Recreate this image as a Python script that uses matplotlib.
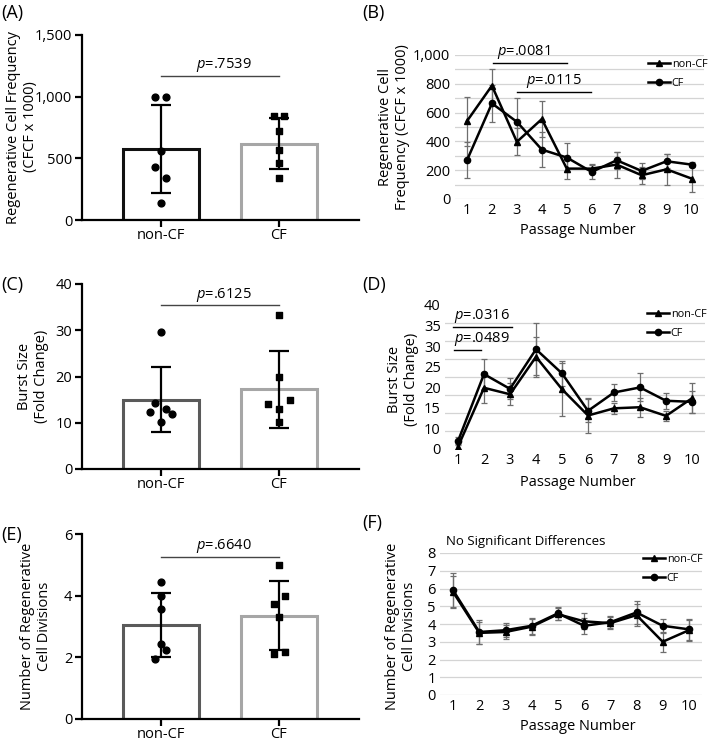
import numpy as np
import matplotlib
matplotlib.use('Agg')
import matplotlib.pyplot as plt
from matplotlib.lines import Line2D

plt.rcParams['font.family'] = ['Open Sans', 'DejaVu Sans']
plt.rcParams['mathtext.fontset'] = 'custom'
plt.rcParams['mathtext.rm'] = 'Open Sans'
plt.rcParams['mathtext.it'] = 'Open Sans:italic'

# ---- datos paneles de barras (A, C, E) ----
grupos = ['non-CF', 'CF']

a_medias = [575, 620]
a_sd = [355, 210]
a_noncf = [1000, 1000, 560, 430, 340, 140]
a_noncf_dx = [-0.048, 0.04, 0, -0.05, 0.04, 0]
a_cf = [846, 846, 719, 568, 459, 343]
a_cf_dx = [-0.045, 0.045, 0, 0, 0, 0]

c_medias = [15.0, 17.2]
c_sd = [7.1, 8.35]
c_noncf = [29.6, 14.2, 12.4, 13.0, 12.0, 10.2]
c_noncf_dx = [0, -0.05, -0.096, 0.045, 0.093, 0]
c_cf = [33.2, 20.0, 15.0, 14.1, 13.0, 10.2]
c_cf_dx = [0, 0, 0.095, -0.093, 0, 0]

e_medias = [3.06, 3.35]
e_sd = [1.04, 1.11]
e_noncf = [4.45, 3.98, 3.57, 2.44, 2.23, 1.96]
e_noncf_dx = [0, 0, 0, 0, 0.045, -0.05]
e_cf = [4.98, 3.98, 3.72, 3.31, 2.12, 2.16]
e_cf_dx = [0, 0.05, -0.045, 0, -0.045, 0.05]

# ---- datos paneles de lineas (B, D, F) ----
pasajes = np.arange(1, 11)

b_noncf = [541, 787, 397, 555, 211, 211, 239, 165, 206, 142]
b_noncf_err = [170, 113, 93, 125, 75, 30, 90, 60, 106, 92]
b_cf = [269, 664, 536, 343, 288, 188, 269, 195, 262, 239]
b_cf_err = [125, 128, 162, 121, 100, 50, 60, 57, 50, 15]

d_noncf = [0.65, 17.0, 15.2, 25.6, 16.6, 9.3, 11.3, 11.6, 9.2, 14.1]
d_noncf_err = [0.8, 4.3, 3.0, 5.5, 7.3, 4.8, 1.6, 2.6, 1.4, 4.1]
d_cf = [2.2, 20.8, 16.7, 27.7, 21.0, 10.6, 15.7, 17.1, 13.4, 13.1]
d_cf_err = [1.0, 4.2, 2.9, 7.2, 3.4, 3.2, 2.3, 3.9, 2.2, 3.0]
d_etiquetas = ['0', '10', '15', '20', '25', '30', '35', '40']

f_noncf = [5.8, 3.5, 3.55, 3.85, 4.55, 4.15, 4.05, 4.5, 3.0, 3.65]
f_noncf_err = [0.9, 0.6, 0.4, 0.45, 0.35, 0.45, 0.35, 0.6, 0.55, 0.6]
f_cf = [5.9, 3.55, 3.65, 3.9, 4.6, 3.9, 4.1, 4.65, 3.9, 3.7]
f_cf_err = [0.95, 0.65, 0.4, 0.45, 0.35, 0.45, 0.35, 0.65, 0.4, 0.6]

W, H = 709, 741
fig = plt.figure(figsize=(W / 100, H / 100), dpi=100)


def rect(l, r, t, b):
    return [l / W, 1 - b / H, (r - l) / W, (b - t) / H]


def panel_barras(ax, medias, sd, noncf, noncf_dx, cf, cf_dx, ymax, yticks, ytl,
                 col_noncf, ptexto, p_linea, p_y):
    x = np.arange(2)
    ax.bar(x, medias, width=0.65, facecolor='white',
           edgecolor=[col_noncf, '#a6a6a6'], linewidth=2.2, zorder=1)
    ax.errorbar(x, medias, yerr=sd, fmt='none', ecolor='black', elinewidth=1.6,
                capsize=7, capthick=1.6, zorder=3)
    ax.scatter(np.zeros(len(noncf)) + np.array(noncf_dx), noncf, s=24,
               marker='o', color='black', zorder=4)
    ax.scatter(np.ones(len(cf)) + np.array(cf_dx), cf, s=22,
               marker='s', color='black', zorder=4)
    ax.plot([0, 1], [p_linea, p_linea], color='#444444', lw=1)
    ax.text(0.535, p_y, ptexto, ha='center', va='center', fontsize=10.5)
    ax.set_xlim(-0.67, 1.68)
    ax.set_ylim(0, ymax)
    ax.set_xticks(x, grupos)
    ax.set_yticks(yticks, ytl)
    for s in ['top', 'right']:
        ax.spines[s].set_visible(False)
    for s in ['left', 'bottom']:
        ax.spines[s].set_linewidth(1.6)
    ax.tick_params(labelsize=10.5, width=1.6, length=5, pad=2)
    ax.tick_params(axis='x', pad=1)


def panel_lineas(ax, noncf, noncf_err, cf, cf_err, ymax):
    ax.errorbar(pasajes, noncf, yerr=noncf_err, fmt='none', ecolor='#6e6e6e',
                elinewidth=0.9, capsize=2.2, capthick=0.9, zorder=2)
    ax.errorbar(pasajes, cf, yerr=cf_err, fmt='none', ecolor='#6e6e6e',
                elinewidth=0.9, capsize=2.2, capthick=0.9, zorder=2)
    ax.plot(pasajes, noncf, color='black', lw=1.8, marker='^', ms=4.5, zorder=3)
    ax.plot(pasajes, cf, color='black', lw=1.8, marker='o', ms=4.5, zorder=3)
    ax.set_xlim(0.5, 10.5)
    ax.set_ylim(0, ymax)
    ax.set_xticks(pasajes)
    for s in ax.spines.values():
        s.set_visible(False)
    ax.tick_params(which='both', length=0, labelsize=10.5, pad=3)
    ax.set_axisbelow(True)


def leyenda(x, y):
    h = [Line2D([], [], color='black', lw=1.8, marker='^', ms=4.5),
         Line2D([], [], color='black', lw=1.8, marker='o', ms=4.5)]
    fig.legend(h, ['non-CF', 'CF'], loc='upper left',
               bbox_to_anchor=(x / W, 1 - y / H), frameon=False, fontsize=7.8,
               handlelength=2.0, handletextpad=0.2, labelspacing=0.75,
               borderpad=0, borderaxespad=0)


# (A)
axA = fig.add_axes(rect(82, 359, 35, 220))
panel_barras(axA, a_medias, a_sd, a_noncf, a_noncf_dx, a_cf, a_cf_dx, 1500,
             [0, 500, 1000, 1500], ['0', '500', '1,000', '1,500'], '#111111',
             '$p$=.7539', 1168, 1257)

# (C)
axC = fig.add_axes(rect(82, 359, 284, 469))
panel_barras(axC, c_medias, c_sd, c_noncf, c_noncf_dx, c_cf, c_cf_dx, 40,
             [0, 10, 20, 30, 40], ['0', '10', '20', '30', '40'], '#5a5a5a',
             '$p$=.6125', 35.4, 37.6)

# (E)
axE = fig.add_axes(rect(82, 359, 534, 719))
panel_barras(axE, e_medias, e_sd, e_noncf, e_noncf_dx, e_cf, e_cf_dx, 6,
             [0, 2, 4, 6], ['0', '2', '4', '6'], '#5a5a5a',
             '$p$=.6640', 5.26, 5.6)

# (B)
axB = fig.add_axes(rect(454.5, 704, 55, 199))
panel_lineas(axB, b_noncf, b_noncf_err, b_cf, b_cf_err, 1000)
axB.set_yticks([0, 200, 400, 600, 800, 1000], ['0', '200', '400', '600', '800', '1,000'])
axB.set_yticks(np.arange(0, 1001, 100), minor=True)
axB.grid(which='both', axis='y', color='#d4d4d4', lw=0.9)
axB.plot([2.03, 5.0], [947, 947], color='black', lw=1)
axB.text(2.2, 1023, '$p$=.0081', ha='left', va='center', fontsize=10.5)
axB.plot([3.0, 5.97], [745, 745], color='black', lw=1)
axB.text(3.37, 821, '$p$=.0115', ha='left', va='center', fontsize=10.5)
leyenda(648, 59)

# (D)
axD = fig.add_axes(rect(445, 705, 305, 449))
panel_lineas(axD, d_noncf, d_noncf_err, d_cf, d_cf_err, 40)
axD.set_yticks(np.linspace(0, 40, len(d_etiquetas)), d_etiquetas)
axD.set_yticks(np.arange(0, 41, 5), minor=True)
axD.grid(which='minor', axis='y', color='#d4d4d4', lw=0.9)
axD.plot([0.81, 3.06], [33.8, 33.8], color='black', lw=1)
axD.text(0.83, 37.0, '$p$=.0316', ha='left', va='center', fontsize=10.5)
axD.plot([0.85, 1.9], [27.5, 27.5], color='black', lw=1)
axD.text(0.86, 30.5, '$p$=.0489', ha='left', va='center', fontsize=10.5)
leyenda(647, 309)

# (F)
axF = fig.add_axes(rect(440, 702, 553, 695))
panel_lineas(axF, f_noncf, f_noncf_err, f_cf, f_cf_err, 8)
axF.set_yticks(np.arange(0, 9))
axF.grid(which='major', axis='y', color='#d4d4d4', lw=0.9)
fig.text(446 / W, 1 - 542 / H, 'No Significant Differences', fontsize=9.5,
         ha='left', va='center')
leyenda(643, 554)

# etiquetas de ejes
ylabs = [(22, 127, 'Regenerative Cell Frequency\n(CFCF x 1000)'),
         (33, 376, 'Burst Size\n(Fold Change)'),
         (36, 626, 'Number of Regenerative\nCell Divisions'),
         (394, 127, 'Regenerative Cell\nFrequency (CFCF x 1000)'),
         (403, 379, 'Burst Size\n(Fold Change)'),
         (401, 626, 'Number of Regenerative\nCell Divisions')]
for xp, yp, t in ylabs:
    fig.text(xp / W, 1 - yp / H, t, rotation=90, ha='center', va='center',
             fontsize=10.5, linespacing=1.1)

for yp in [230, 482, 727]:
    fig.text(578 / W, 1 - yp / H, 'Passage Number', ha='center', va='center',
             fontsize=10.5)

letras = [(1, 13, '(A)'), (362, 13, '(B)'), (1, 285, '(C)'),
          (362, 285, '(D)'), (1, 535, '(E)'), (362, 523, '(F)')]
for xp, yp, t in letras:
    fig.text(xp / W, 1 - yp / H, t, fontsize=13, ha='left', va='center')

fig.savefig('out.png', dpi=100)
